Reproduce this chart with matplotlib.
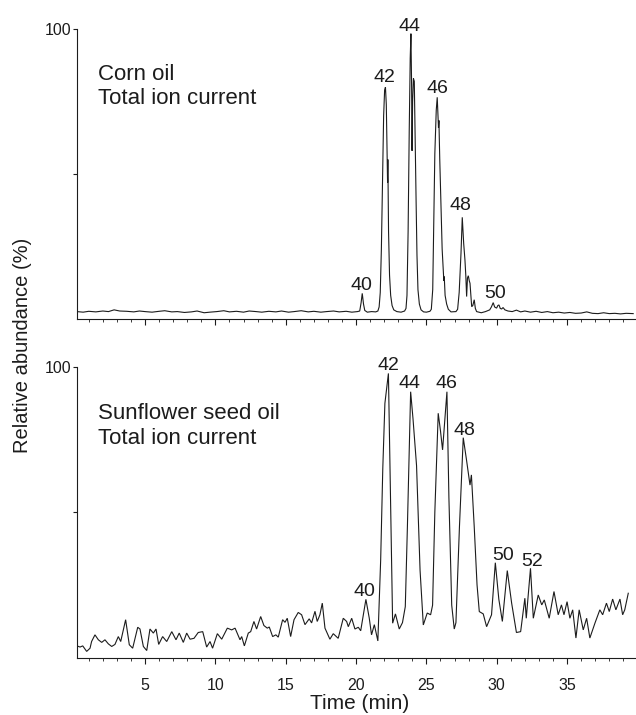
import matplotlib
matplotlib.use("Agg")
import matplotlib.pyplot as plt
from matplotlib.ticker import MultipleLocator, FixedLocator

# ---------------------------------------------------------------------------
# Data (time in min, relative abundance in %)
# ---------------------------------------------------------------------------
CORN_T = [
    0.16, 0.6, 1.0, 1.5, 2.0, 2.4, 2.8, 3.2, 3.7, 4.2, 4.6, 5.0, 5.5, 6.0, 6.4,
    6.9, 7.3, 7.8, 8.3, 8.7, 9.2, 9.6, 10.1, 10.6, 11.0, 11.5, 12.0, 12.4, 12.9,
    13.3, 13.8, 14.3, 14.7, 15.2, 15.6, 16.1, 16.6, 17.0, 17.5, 17.9, 18.4, 18.8,
    19.3, 19.7, 20.1,
    20.26, 20.36, 20.44, 20.53, 20.62, 20.8, 21.1, 21.4, 21.55,
    21.64, 21.72, 21.8, 21.88, 21.96, 22.03, 22.09, 22.15, 22.2, 22.24, 22.26,
    22.31, 22.38, 22.46, 22.56, 22.68, 22.9, 23.2, 23.45,
    23.55, 23.62, 23.7, 23.78, 23.85, 23.9, 23.95, 23.98, 24.02, 24.08, 24.14,
    24.2, 24.27, 24.33, 24.4, 24.5, 24.62, 24.8, 25.0, 25.25,
    25.35, 25.45, 25.53, 25.6, 25.7, 25.77, 25.83, 25.86, 25.89, 25.95, 26.03,
    26.12, 26.2, 26.24, 26.27, 26.33, 26.44, 26.56, 26.75, 27.1,
    27.22, 27.33, 27.46, 27.55, 27.65, 27.74, 27.8, 27.86, 27.92, 27.98, 28.05,
    28.1, 28.16, 28.22, 28.3, 28.4, 28.48, 28.57, 28.9, 29.2, 29.5, 29.62,
    29.75, 29.85, 29.99, 30.08, 30.16, 30.25, 30.35, 30.45, 30.58, 30.8, 31.1,
    31.4, 31.7, 32.0, 32.4, 32.8, 33.2, 33.6, 34.0, 34.4, 34.8, 35.2, 35.6,
    36.0, 36.4, 36.8, 37.2, 37.6, 38.0, 38.4, 38.8, 39.2, 39.7,
]
CORN_Y = [
    2.4, 2.2, 2.5, 2.3, 2.6, 2.4, 3.0, 2.6, 2.5, 2.3, 2.6, 2.4, 2.2, 2.5, 2.7,
    2.3, 2.4, 2.1, 2.3, 2.6, 2.0, 2.2, 2.4, 2.7, 2.3, 2.5, 2.2, 2.6, 2.4,
    2.2, 2.5, 2.3, 2.6, 2.2, 2.4, 2.7, 2.3, 2.5, 2.2, 2.4, 2.6, 2.3,
    2.5, 2.2, 2.4,
    2.6, 5.5, 8.7, 5.0, 2.8, 2.2, 2.4, 2.3, 2.6,
    4.0, 9.0, 24.0, 48.0, 70.0, 79.0, 80.0, 74.0, 60.0, 47.0, 55.0,
    30.0, 15.0, 8.0, 4.5, 3.0, 2.4, 2.2, 2.6,
    3.5, 8.0, 30.0, 65.0, 90.0, 98.5, 80.0, 58.0, 75.0, 83.0, 82.0,
    62.0, 40.0, 22.0, 10.0, 5.0, 3.0, 2.3, 2.2, 2.5,
    3.2, 10.0, 35.0, 57.0, 72.0, 76.5, 70.0, 66.0, 68.5, 55.0, 40.0,
    24.0, 16.8, 13.0, 14.5, 8.0, 5.0, 3.2, 2.3, 2.4,
    3.2, 9.0, 22.6, 35.0, 26.0, 20.3, 15.0, 7.6, 14.0, 14.8, 13.0,
    12.2, 8.0, 4.1, 4.5, 6.5, 3.5, 2.4, 2.0, 2.4, 3.0, 4.0,
    5.5, 4.0, 3.6, 4.5, 4.7, 3.5, 3.3, 3.8, 3.0, 2.6, 2.4,
    2.9, 2.3, 2.6, 2.2, 2.5, 2.1, 2.4, 2.0, 2.2, 1.9, 2.1, 1.8,
    1.9, 2.3, 1.8, 1.7, 2.0, 1.7, 1.8, 1.6, 1.8, 1.7,
]

SUN_T = [
    0.16, 0.38, 0.57, 0.85, 1.09, 1.2, 1.44, 1.68, 1.92, 2.15, 2.39, 2.63, 2.86,
    3.1, 3.27, 3.62, 3.88, 4.12, 4.48, 4.64, 4.88, 5.12, 5.35, 5.59, 5.78, 5.97,
    6.25, 6.54, 6.9, 7.2, 7.43, 7.72, 7.96, 8.2, 8.48, 8.78, 9.1, 9.38, 9.62,
    9.8, 10.14, 10.45, 10.85, 11.16, 11.4, 11.75, 11.87, 12.06, 12.34, 12.51,
    12.74, 12.93, 13.22, 13.45, 13.69, 13.83, 14.07, 14.3, 14.47, 14.78, 14.95,
    15.11, 15.35, 15.59, 15.89, 16.13, 16.37, 16.67, 16.84, 17.08, 17.24, 17.43,
    17.6, 17.79, 18.14, 18.38, 18.73, 19.09, 19.33, 19.45, 19.69, 19.92, 20.16,
    20.33, 20.7, 20.94, 21.1, 21.3, 21.55, 21.75, 21.9, 22.05, 22.3, 22.45,
    22.6, 22.8, 23.07, 23.3, 23.5, 23.65, 23.88, 24.05, 24.3, 24.55, 24.78,
    25.06, 25.3, 25.44, 25.6, 25.84, 26.0, 26.15, 26.46, 26.6, 26.8, 26.98,
    27.1, 27.35, 27.62, 27.85, 28.1, 28.2, 28.4, 28.6, 28.76, 29.04, 29.28,
    29.63, 29.9, 30.15, 30.4, 30.75, 31.06, 31.4, 31.7, 32.0, 32.1, 32.4, 32.6,
    32.95, 33.2, 33.38, 33.73, 34.07, 34.37, 34.6, 34.78, 35.0, 35.2, 35.4,
    35.63, 35.86, 36.15, 36.39, 36.62, 36.98, 37.33, 37.53, 37.8, 38.0, 38.24,
    38.47, 38.76, 38.95, 39.1, 39.35,
]
SUN_Y = [
    4.0, 3.6, 4.0, 2.1, 3.2, 5.5, 7.8, 6.1, 5.2, 6.1, 4.7, 3.8, 4.5,
    7.2, 5.5, 13.0, 4.4, 3.2, 10.4, 9.8, 3.8, 2.4, 9.8, 8.4, 9.8, 4.5,
    7.2, 5.5, 8.9, 6.1, 8.4, 5.2, 8.4, 6.3, 6.6, 8.6, 8.9, 3.6, 5.5,
    3.2, 8.2, 6.3, 10.1, 9.5, 10.1, 6.1, 7.2, 4.0, 8.4, 8.9,
    12.4, 9.8, 14.1, 11.0, 10.1, 10.5, 7.2, 7.8, 7.0, 13.0, 12.1,
    13.5, 7.2, 13.0, 15.5, 14.7, 11.3, 13.3, 11.9, 15.9, 12.4, 14.7,
    18.7, 10.1, 6.3, 8.2, 6.6, 13.5, 12.4, 10.6, 13.5, 9.8, 10.4,
    9.2, 20.0, 13.5, 7.8, 11.3, 5.7, 33.6, 65.0, 87.4, 97.7, 55.0,
    11.8, 15.0, 9.8, 12.0, 17.5, 45.0, 91.4, 82.0, 66.0, 30.0, 11.2,
    15.3, 14.7, 18.0, 50.0, 84.0, 78.0, 71.4, 91.4, 55.0, 18.0, 9.8,
    12.0, 45.0, 75.6, 68.0, 59.3, 62.8, 45.0, 25.0, 15.8, 15.0, 10.6,
    14.7, 32.6, 20.0, 12.4, 29.9, 18.7, 8.6, 8.9, 20.4, 13.5, 30.7, 13.5,
    21.5, 18.1, 19.8, 13.5, 22.7, 14.7, 18.1, 14.7, 19.2, 13.5, 16.4,
    6.7, 16.4, 9.5, 13.5, 6.7, 11.8, 16.4, 14.7, 18.7, 15.8, 20.1,
    16.4, 20.1, 14.7, 16.4, 22.1,
]

# peak labels (carbon number), anchored at the label baseline
CORN_LABELS = ["40", "42", "44", "46", "48", "50"]
CORN_LABEL_T = [20.4, 22.05, 23.83, 25.77, 27.43, 29.87]
CORN_LABEL_Y = [9.9, 81.9, 99.4, 78.0, 37.6, 7.0]

SUN_LABELS = ["40", "42", "44", "46", "48", "50", "52"]
SUN_LABEL_T = [20.63, 22.29, 23.83, 26.44, 27.67, 30.46, 32.48]
SUN_LABEL_Y = [21.0, 98.9, 92.6, 92.6, 76.5, 33.6, 31.3]

PANEL_TITLES = ["Corn oil\nTotal ion current", "Sunflower seed oil\nTotal ion current"]

# ---------------------------------------------------------------------------
# Figure
# ---------------------------------------------------------------------------
plt.rcParams["font.family"] = ["Liberation Sans", "DejaVu Sans"]
INK = "#1c1c1c"

fig = plt.figure(figsize=(6.36, 7.15), dpi=100)
ax_top = fig.add_axes([0.121, 0.5545, 0.879, 0.4045])
ax_bot = fig.add_axes([0.121, 0.0804, 0.879, 0.4067])

panels = [
    (ax_top, CORN_T, CORN_Y, CORN_LABELS, CORN_LABEL_T, CORN_LABEL_Y, 0.88),
    (ax_bot, SUN_T, SUN_Y, SUN_LABELS, SUN_LABEL_T, SUN_LABEL_Y, 0.874),
]

for i, (ax, t, y, labs, lt, ly, title_y) in enumerate(panels):
    ax.plot(t, y, color=INK, linewidth=0.8, solid_joinstyle="miter")
    ax.set_xlim(0.16, 39.9)
    ax.set_ylim(0, 100)

    for s in ("top", "right"):
        ax.spines[s].set_visible(False)
    for s in ("left", "bottom"):
        ax.spines[s].set_color(INK)
        ax.spines[s].set_linewidth(0.8)

    ax.xaxis.set_major_locator(FixedLocator([5, 10, 15, 20, 25, 30, 35]))
    ax.xaxis.set_minor_locator(MultipleLocator(1))
    ax.yaxis.set_major_locator(FixedLocator([50, 100]))
    ax.set_yticklabels(["", "100"])
    ax.tick_params(axis="both", which="major", length=4.5, width=0.8,
                   color=INK, labelcolor=INK, labelsize=11.5)
    ax.tick_params(axis="x", which="minor", length=2.5, width=0.6, color=INK)
    ax.tick_params(axis="x", which="major", pad=10)
    ax.tick_params(axis="y", which="major", length=3, pad=1)
    if i == 0:
        ax.tick_params(axis="x", labelbottom=False)

    ax.text(0.0376, title_y, PANEL_TITLES[i], transform=ax.transAxes,
            ha="left", va="top", fontsize=16, color=INK, linespacing=1.2)

    for lab, tx, ty in zip(labs, lt, ly):
        ax.text(tx, ty, lab, ha="center", va="baseline",
                fontsize=14, color=INK)

fig.text(0.035, 0.517, "Relative abundance (%)", rotation=90,
         ha="center", va="center", fontsize=14.5, color=INK)
fig.text(0.565, 0.009, "Time (min)", ha="center", va="baseline",
         fontsize=15, color=INK)

fig.savefig("out.png", dpi=100)
